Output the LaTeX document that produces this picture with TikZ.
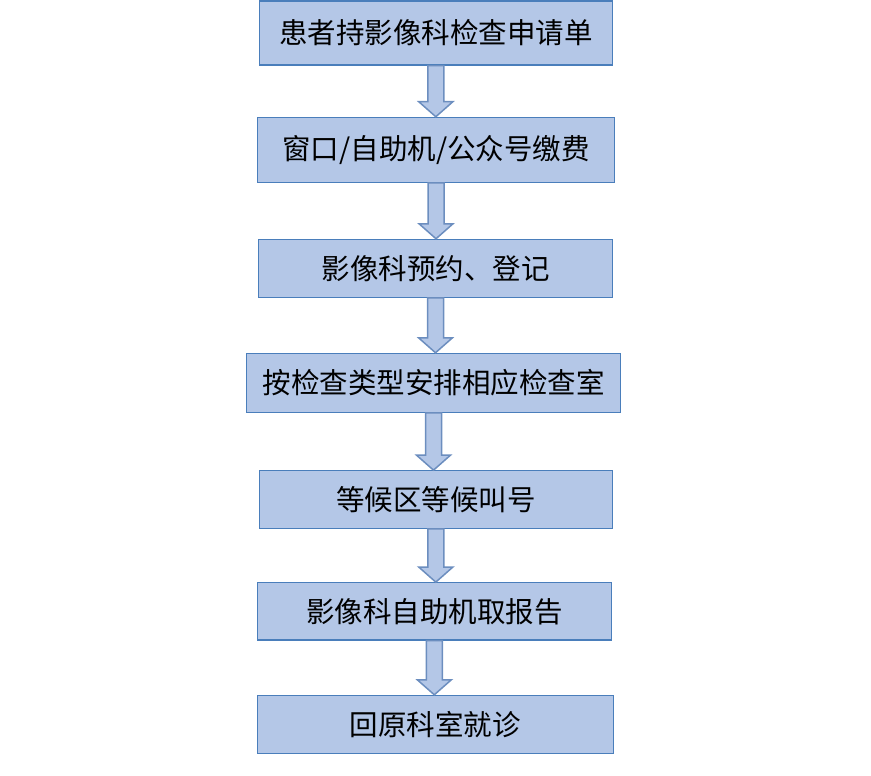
\documentclass[tikz,border=0pt]{standalone}
\usepackage{fontspec}
\newfontfamily\cjk{Noto Sans CJK SC}
\usetikzlibrary{calc}

\definecolor{boxfill}{HTML}{B4C7E7}
\definecolor{boxline}{HTML}{4A7EBB}
\definecolor{arrowline}{HTML}{6C8EBF}

\tikzset{
  stepbox/.style={draw=boxline, line width=1.1pt, fill=boxfill, inner sep=0pt,
    font=\cjk\fontsize{28.5}{30}\selectfont},
  flowarrow/.style={draw=arrowline, line width=1.5pt, fill=boxfill, line join=miter},
}

\begin{document}
\begin{tikzpicture}[x=1pt,y=-1pt]
    \useasboundingbox (0,0) rectangle (871,776);
    \node[stepbox, minimum width=353,   minimum height=64  ] (s1) at (435.8,33.0)  {患者持影像科检查申请单};
    \node[stepbox, minimum width=357.4, minimum height=65  ] (s2) at (436.0,149.8) {窗口/自助机/公众号缴费};
    \node[stepbox, minimum width=354.4, minimum height=58  ] (s3) at (435.5,268.3) {影像科预约、登记};
    \node[stepbox, minimum width=373.6, minimum height=59  ] (s4) at (433.5,382.8) {按检查类型安排相应检查室};
    \node[stepbox, minimum width=353,   minimum height=57.6] (s5) at (435.8,499.5) {等候区等候叫号};
    \node[stepbox, minimum width=354,   minimum height=57.3] (s6) at (434.3,611.3) {影像科自助机取报告};
    \node[stepbox, minimum width=356,   minimum height=57.7] (s7) at (435.3,724.2) {回原科室就诊};
    % block arrows between the steps
    \foreach \a/\b in {s1/s2,s2/s3,s3/s4,s4/s5,s5/s6,s6/s7}
        \draw[flowarrow] ($(\a.south)+(-8,0)$) -- ($(\a.south |- \b.north)+(-8,-15)$) -- ++(-9,0)
            -- (\a.south |- \b.north) -- ++(17,-15) -- ++(-9,0) -- ($(\a.south)+(8,0)$) -- cycle;
\end{tikzpicture}
\end{document}
